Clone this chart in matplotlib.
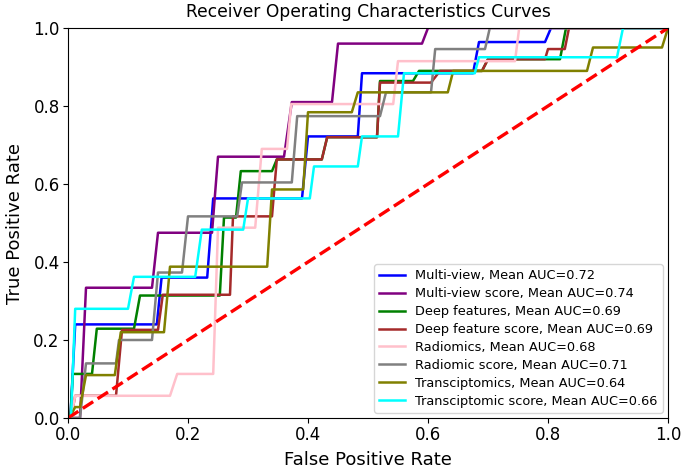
import matplotlib
matplotlib.use("Agg")
import matplotlib.pyplot as plt

labels = [
    "Multi-view, Mean AUC=0.72",
    "Multi-view score, Mean AUC=0.74",
    "Deep features, Mean AUC=0.69",
    "Deep feature score, Mean AUC=0.69",
    "Radiomics, Mean AUC=0.68",
    "Radiomic score, Mean AUC=0.71",
    "Transciptomics, Mean AUC=0.64",
    "Transciptomic score, Mean AUC=0.66",
]
colors = ["blue", "purple", "green", "brown", "pink", "gray", "olive", "cyan"]

mv_fpr = [0, 0.004, 0.012, 0.148, 0.156, 0.232, 0.242, 0.39, 0.40, 0.483, 0.49, 0.675, 0.685, 0.795, 0.805, 1]
mv_tpr = [0, 0, 0.24, 0.24, 0.36, 0.36, 0.563, 0.563, 0.722, 0.722, 0.884, 0.884, 0.964, 0.964, 1, 1]

mvs_fpr = [0, 0.02, 0.03, 0.14, 0.15, 0.24, 0.25, 0.36, 0.373, 0.44, 0.45, 0.59, 0.60, 1.0]
mvs_tpr = [0, 0, 0.334, 0.334, 0.475, 0.475, 0.67, 0.67, 0.81, 0.81, 0.96, 0.96, 1.0, 1.0]

df_fpr = [0, 0.004, 0.008, 0.04, 0.048, 0.11, 0.12, 0.253, 0.26, 0.28, 0.288, 0.34, 0.348, 0.423, 0.432, 0.515, 0.52, 0.575, 0.585, 0.69, 0.70, 0.82, 0.83, 1]
df_tpr = [0, 0, 0.113, 0.113, 0.229, 0.229, 0.314, 0.314, 0.514, 0.514, 0.633, 0.633, 0.663, 0.663, 0.72, 0.72, 0.864, 0.864, 0.89, 0.89, 0.92, 0.92, 1, 1]

dfs_fpr = [0, 0.005, 0.012, 0.08, 0.09, 0.15, 0.158, 0.27, 0.275, 0.34, 0.348, 0.423, 0.432, 0.515, 0.52, 0.605, 0.62, 0.69, 0.70, 0.795, 0.80, 0.828, 0.835, 1]
dfs_tpr = [0, 0, 0.057, 0.057, 0.226, 0.226, 0.316, 0.316, 0.517, 0.517, 0.663, 0.663, 0.72, 0.72, 0.86, 0.86, 0.89, 0.89, 0.92, 0.92, 0.946, 0.946, 1, 1]

rad_fpr = [0, 0.005, 0.012, 0.17, 0.182, 0.242, 0.25, 0.312, 0.323, 0.365, 0.372, 0.542, 0.55, 0.745, 0.752, 1]
rad_tpr = [0, 0, 0.057, 0.057, 0.113, 0.113, 0.488, 0.488, 0.69, 0.69, 0.805, 0.805, 0.915, 0.915, 1, 1]

rs_fpr = [0, 0.02, 0.03, 0.08, 0.085, 0.14, 0.15, 0.19, 0.20, 0.282, 0.29, 0.373, 0.382, 0.52, 0.53, 0.605, 0.612, 0.695, 0.703, 1]
rs_tpr = [0, 0, 0.14, 0.14, 0.2, 0.2, 0.373, 0.373, 0.517, 0.517, 0.604, 0.604, 0.774, 0.774, 0.835, 0.835, 0.946, 0.946, 1, 1]

tr_fpr = [0, 0.002, 0.012, 0.02, 0.03, 0.078, 0.088, 0.16, 0.17, 0.332, 0.34, 0.392, 0.40, 0.473, 0.483, 0.633, 0.642, 0.865, 0.875, 0.99, 1.0]
tr_tpr = [0, 0, 0.028, 0.028, 0.11, 0.11, 0.22, 0.22, 0.388, 0.388, 0.586, 0.586, 0.784, 0.784, 0.835, 0.835, 0.89, 0.89, 0.95, 0.95, 1.0]

ts_fpr = [0, 0.005, 0.012, 0.10, 0.11, 0.212, 0.223, 0.292, 0.30, 0.403, 0.41, 0.483, 0.49, 0.55, 0.56, 0.678, 0.685, 0.915, 0.925, 1]
ts_tpr = [0, 0, 0.28, 0.28, 0.362, 0.362, 0.483, 0.483, 0.563, 0.563, 0.645, 0.645, 0.722, 0.722, 0.884, 0.884, 0.925, 0.925, 1, 1]

curves = [(mv_fpr, mv_tpr), (mvs_fpr, mvs_tpr), (df_fpr, df_tpr), (dfs_fpr, dfs_tpr),
          (rad_fpr, rad_tpr), (rs_fpr, rs_tpr), (tr_fpr, tr_tpr), (ts_fpr, ts_tpr)]

fig = plt.figure(figsize=(6.85, 4.73), dpi=100)
ax = fig.add_axes([68/685, 1-418/473, 600/685, 390/473])

for (f, t), c, lab in zip(curves, colors, labels):
    ax.plot(f, t, color=c, lw=1.8, label=lab)

ax.plot([0, 1], [0, 1], color="red", ls="--", lw=2.4)

ax.set_xlim(0, 1)
ax.set_ylim(0, 1)
ax.set_xlabel("False Positive Rate", fontsize=13, labelpad=5)
ax.set_ylabel("True Positive Rate", fontsize=13, labelpad=7)
ax.set_title("Receiver Operating Characteristics Curves", fontsize=12.3, pad=8)
ax.tick_params(labelsize=12, pad=2.5)
ax.legend(loc="lower right", fontsize=9.3, handlelength=2.0, labelspacing=0.38,
          borderaxespad=0.4)

fig.savefig("out.png", dpi=100)
